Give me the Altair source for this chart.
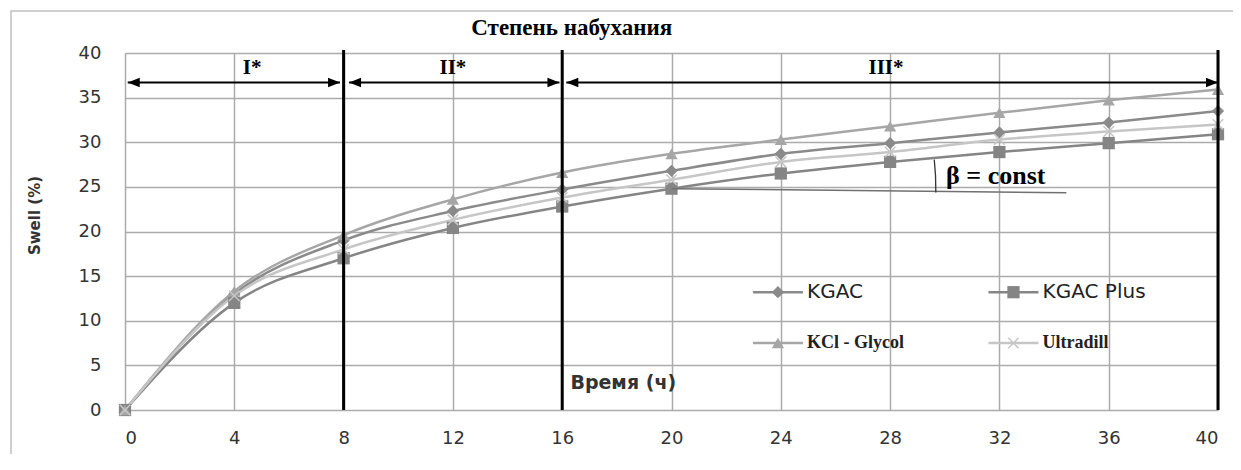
import altair as alt
import pandas as pd

# ---------------- data ----------------
time_h = [0, 4, 8, 12, 16, 20, 24, 28, 32, 36, 40]
kgac = [0, 13.0, 19.0, 22.3, 24.7, 26.8, 28.7, 29.9, 31.1, 32.2, 33.5]
kgac_plus = [0, 12.0, 17.0, 20.4, 22.8, 24.8, 26.5, 27.8, 28.9, 29.9, 30.9]
kcl_glycol = [0, 13.3, 19.6, 23.6, 26.6, 28.7, 30.3, 31.8, 33.3, 34.7, 35.9]
ultradill = [0, 12.8, 18.0, 21.3, 23.8, 25.8, 27.8, 28.9, 30.3, 31.2, 32.0]

series_names = ["KGAC", "KGAC Plus", "KCl - Glycol", "Ultradill"]
series_values = [kgac, kgac_plus, kcl_glycol, ultradill]

x_ticks = [0, 4, 8, 12, 16, 20, 24, 28, 32, 36, 40]
y_ticks = [0, 5, 10, 15, 20, 25, 30, 35, 40]

stage_bounds = [8, 16, 40]
stage_labels = ["I*", "II*", "III*"]

title_text = "Степень набухания"
x_title = "Время (ч)"
y_title = "Swell (%)"
beta_text = "β = const"

# ---------------- tables ----------------
rows = []
for name, vals in zip(series_names, series_values):
    for t, v in zip(time_h, vals):
        rows.append({"t": t, "v": v, "s": name})
df = pd.DataFrame(rows)

colors = ["#8a8a8a", "#858585", "#a6a6a6", "#c6c6c6"]

X = alt.X("t:Q", scale=alt.Scale(domain=[0, 40], nice=False, zero=False),
          axis=alt.Axis(values=x_ticks, title=None, grid=True, gridColor="#ababab",
                        gridWidth=1.5, domain=False, ticks=False, labelPadding=19,
                        labelFont="DejaVu Sans", labelFontSize=18, labelColor="#333333"))
Y = alt.Y("v:Q", scale=alt.Scale(domain=[0, 40], nice=False),
          axis=alt.Axis(values=y_ticks, title=y_title, grid=True, gridColor="#ababab",
                        gridWidth=1.5, domain=False, ticks=False, labelPadding=24,
                        labelFont="DejaVu Sans", labelFontSize=18, labelColor="#333333",
                        titleFont="DejaVu Sans", titleFontSize=15, titleFontWeight="bold",
                        titleColor="#333333", titleX=-91, titleY=162, titleAngle=-90,
                        titleAlign="center", titleBaseline="middle"))
C = alt.Color("s:N", scale=alt.Scale(domain=series_names, range=colors), legend=None)

frame = alt.Chart(pd.DataFrame({"a": [0]})).mark_rect(
    fill=None, stroke="#c0c0c0", strokeWidth=1.5
).encode(x=alt.value(-114), x2=alt.value(1130), y=alt.value(-42), y2=alt.value(430))

lines = alt.Chart(df).mark_line(interpolate="monotone", strokeWidth=2.5).encode(
    x=X, y=Y, color=C, detail="s:N")

shape_map = {"KGAC": "diamond", "KGAC Plus": "square", "KCl - Glycol": "triangle-up"}
pts_filled = alt.Chart(df[df.s != "Ultradill"]).mark_point(filled=True, size=150, opacity=1).encode(
    x="t:Q", y="v:Q", color=C,
    shape=alt.Shape("s:N", scale=alt.Scale(domain=list(shape_map.keys()),
                                           range=list(shape_map.values())), legend=None))
xpath = "M-1,-1L1,1M-1,1L1,-1"
pts_x = alt.Chart(df[df.s == "Ultradill"]).mark_point(
    shape=xpath, filled=False, size=110, strokeWidth=1.5, color=colors[3], opacity=1
).encode(x="t:Q", y="v:Q")

# stage boundaries
bounds = alt.Chart(pd.DataFrame({"t": stage_bounds})).mark_rule(
    color="black", strokeWidth=3).encode(x="t:Q", y=alt.datum(0), y2=alt.datum(40.35))

# arrows
arrow_y = 36.7
arr_start = [0.1, 8.2, 16.15]
arr_end = [7.87, 15.9, 40.0]
arr_df = pd.DataFrame({"a": arr_start, "b": arr_end, "y": [arrow_y] * 3})
arrow_lines = alt.Chart(arr_df).mark_rule(color="black", strokeWidth=2).encode(
    x="a:Q", x2="b:Q", y="y:Q")
right_head = "M0,0L-1,-0.4L-1,0.4Z"
left_head = "M0,0L1,-0.4L1,0.4Z"
heads_r = alt.Chart(pd.DataFrame({"t": arr_end, "y": [arrow_y] * 3})).mark_point(
    shape=right_head, filled=True, size=576, color="black", opacity=1).encode(x="t:Q", y="y:Q")
heads_l = alt.Chart(pd.DataFrame({"t": arr_start, "y": [arrow_y] * 3})).mark_point(
    shape=left_head, filled=True, size=576, color="black", opacity=1).encode(x="t:Q", y="y:Q")

stage_txt = alt.Chart(pd.DataFrame({"t": [4.65, 12.0, 27.85], "y": [38.3] * 3,
                                    "lab": stage_labels})).mark_text(
    font="Liberation Serif", fontWeight="bold", fontSize=21, color="black",
    baseline="middle", align="center").encode(x="t:Q", y="y:Q", text="lab:N")

title = alt.Chart(pd.DataFrame({"t": [16.35], "y": [42.85], "lab": [title_text]})).mark_text(
    font="Liberation Serif", fontWeight="bold", fontSize=23, color="black",
    baseline="middle", align="center").encode(x="t:Q", y="y:Q", text="lab:N")

xtitle = alt.Chart(pd.DataFrame({"t": [16.3], "y": [3.0], "lab": [x_title]})).mark_text(
    font="DejaVu Sans", fontWeight="bold", fontSize=19, color="#333333",
    baseline="middle", align="left").encode(x="t:Q", y="y:Q", text="lab:N")

# beta annotation
beta_line = alt.Chart(pd.DataFrame({"a": [20.0], "b": [34.45], "y": [24.8], "y2": [24.35]})).mark_rule(
    color="#707070", strokeWidth=1.5).encode(x="a:Q", x2="b:Q", y="y:Q", y2="y2:Q")
beta_arc = alt.Chart(pd.DataFrame({"t": [20.0], "y": [24.8]})).mark_arc(
    radius=265, radius2=263.7, theta=1.461, theta2=1.585, color="#333333").encode(
    x="t:Q", y="y:Q")
beta_txt = alt.Chart(pd.DataFrame({"t": [30.05], "y": [26.2], "lab": [beta_text]})).mark_text(
    font="Liberation Serif", fontWeight="bold", fontSize=26, color="black",
    baseline="middle", align="left").encode(x="t:Q", y="y:Q", text="lab:N")

# legend (drawn inside the plot, as in the reference)
leg_col_x = [22.98, 31.6, 22.98, 31.6]
leg_row_y = [13.2, 13.2, 7.5, 7.5]
leg_len = 1.83
leg = pd.DataFrame({"s": series_names, "x0": leg_col_x,
                    "x1": [v + leg_len for v in leg_col_x],
                    "xm": [v + leg_len / 2 for v in leg_col_x],
                    "xt": [v + leg_len + 0.15 for v in leg_col_x],
                    "y": leg_row_y})
leg_lines = alt.Chart(leg).mark_rule(strokeWidth=2.5).encode(
    x="x0:Q", x2="x1:Q", y="y:Q", color=C)
leg_pts = alt.Chart(leg[leg.s != "Ultradill"]).mark_point(filled=True, size=150, opacity=1).encode(
    x="xm:Q", y="y:Q", color=C,
    shape=alt.Shape("s:N", scale=alt.Scale(domain=list(shape_map.keys()),
                                           range=list(shape_map.values())), legend=None))
leg_x = alt.Chart(leg[leg.s == "Ultradill"]).mark_point(
    shape=xpath, filled=False, size=110, strokeWidth=1.5, color=colors[3], opacity=1
).encode(x="xm:Q", y="y:Q")
leg_txt_sans = alt.Chart(leg[leg.s.isin(["KGAC", "KGAC Plus"])]).mark_text(
    font="DejaVu Sans", fontSize=20, color="#222222", align="left", baseline="middle").encode(
    x="xt:Q", y="y:Q", text="s:N")
leg_txt_serif = alt.Chart(leg[leg.s.isin(["KCl - Glycol", "Ultradill"])]).mark_text(
    font="Liberation Serif", fontWeight="bold", fontSize=18, color="#222222", align="left",
    baseline="middle").encode(x="xt:Q", y="y:Q", text="s:N")

chart = alt.layer(
    frame, lines, pts_filled, pts_x, beta_line, beta_arc, beta_txt, bounds,
    arrow_lines, heads_r, heads_l, stage_txt, title, xtitle,
    leg_lines, leg_pts, leg_x, leg_txt_sans, leg_txt_serif
).resolve_scale(color="shared", shape="independent").properties(
    width=1093, height=357,
    autosize=alt.AutoSizeParams(type="none"),
    padding={"left": 117, "top": 45, "right": 15, "bottom": 44},
).configure_view(stroke=None).configure(background="white")

chart.save("out.html", embed_options={"renderer": "svg", "actions": False})
